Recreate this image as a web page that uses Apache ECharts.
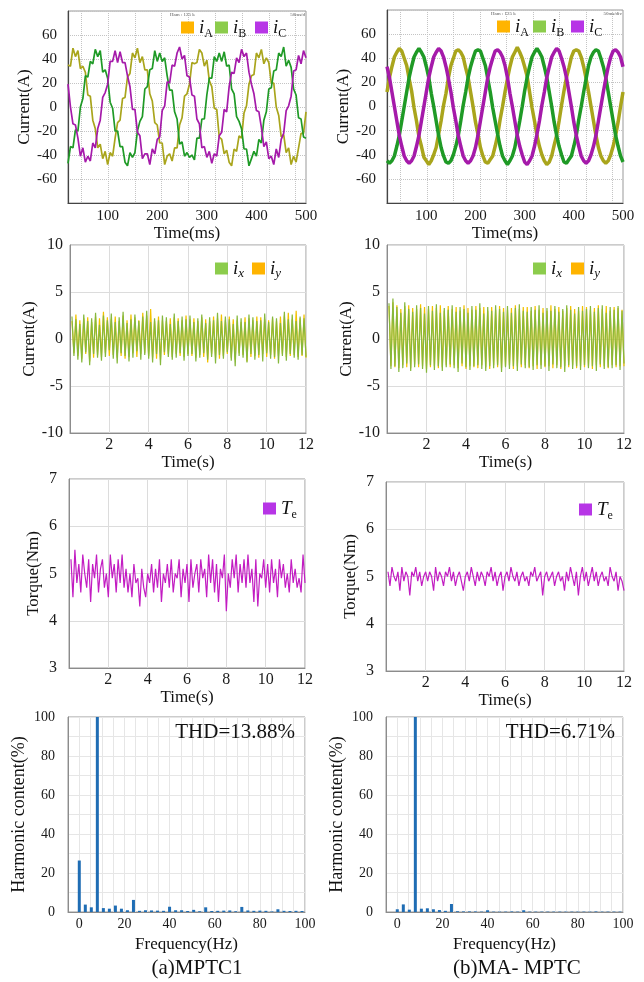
<!DOCTYPE html>
<html>
<head>
<meta charset="utf-8">
<title>MPTC1 vs MA-MPTC</title>
<script src="https://cdn.jsdelivr.net/npm/echarts@6/dist/echarts.min.js"></script>
<style>
html, body { margin: 0; padding: 0; background: #fff; }
#chart { width: 644px; height: 982px; }
</style>
</head>
<body>
<div id="chart"></div>
<script>
var FONT = '"Liberation Serif", "Times New Roman", serif';

// ---- time bases ----
var tStartMs = 20, tStepMs = 5, nMs = 97;
var timeMs = [];
for (var i = 0; i < nMs; i++) timeMs.push(tStartMs + i * tStepMs);
var timeS = [];
for (var i = 1; i <= 120; i++) timeS.push(+(i * 0.1).toFixed(1));

// ---- row 1: three-phase currents (A) ----
var mptcIA = [35, 34, 49, 42, 47, 32, 34, 29, 10, 9, -11, -18, -34, -31, -43, -37, -48, -38, -41, -26, -13, -11, 7, 8, 25,
  28, 45, 41, 49, 37, 42, 31, 31, 11, 5, -13, -15, -30, -30, -48, -41, -39, -45, -34, -34, -15, -9, 9, 11, 19,
  37, 36, 37, 48, 45, 34, 39, 22, 17, -1, -2, -25, -27, -39, -36, -46, -49, -35, -37, -24, -26, -5, 1, 19, 26,
  27, 45, 41, 48, 36, 41, 37, 20, 20, 0, -7, -25, -23, -38, -34, -48, -41, -46, -34, -22, -22, -4];
var mptcIB = [-47, -33, -34, -19, -20, 0, 7, 26, 25, 38, 36, 48, 42, 47, 29, 31, 24, 4, -1, -20, -20, -33, -33, -46, -49,
  -38, -42, -38, -20, -12, -8, 15, 17, 31, 32, 47, 38, 45, 38, 41, 26, 14, 14, -4, -10, -31, -29, -41, -38, -42,
  -40, -44, -26, -26, -10, -10, 10, 24, 24, 42, 38, 45, 38, 46, 34, 35, 15, 11, -8, -12, -18, -35, -35, -49, -43,
  -37, -41, -27, -30, -11, -4, 15, 16, 30, 31, 45, 42, 50, 34, 39, 33, 15, 10, -9, -10, -25, -26];
var mptcIC = [19, 0, -14, -15, -26, -41, -34, -46, -41, -45, -30, -34, -18, -11, 8, 12, 19, 38, 38, 47, 37, 46, 37, 37, 26,
  17, -2, -2, -21, -24, -43, -39, -39, -48, -35, -39, -27, -25, -3, 1, 21, 20, 35, 34, 45, 50, 40, 43, 26, 25,
  10, 9, -10, -14, -34, -33, -42, -37, -47, -39, -41, -24, -21, -2, -4, 17, 29, 28, 41, 37, 48, 42, 45, 29, 19,
  11, -3, -4, -17, -33, -29, -43, -41, -48, -35, -42, -27, -22, -3, 1, 9, 30, 31, 43, 36, 47, 41];

var maIA = [12, 24, 33, 41, 45,
  48, 46, 40, 34, 23, 13, -1, -12, -25, -33, -42, -45, -48, -45, -40, -34, -23, -12, 1, 11, 24, 34, 40, 46,
  47, 45, 41, 32, 24, 12, 0, -13, -23, -34, -41, -46, -47, -44, -41, -33, -24, -11, 0, 12, 23, 33, 41, 45,
  49, 45, 40, 33, 25, 12, -1, -12, -24, -33, -40, -45, -48, -46, -41, -32, -24, -12, 1, 13, 24, 32, 41, 46,
  47, 46, 41, 33, 23, 12, 0, -12, -24, -34, -41, -45, -47, -45, -40, -33, -24, -13, 0, 12];
var maIB = [-45, -47, -45, -41, -33, -24, -12, 0, 12, 24, 33, 41, 45,
  48, 45, 41, 33, 24, 11, 0, -12, -24, -34, -41, -46, -47, -45, -40, -33, -24, -12, 1, 12, 24, 33, 40, 46,
  47, 46, 40, 34, 23, 12, -1, -12, -23, -33, -41, -45, -48, -45, -41, -34, -23, -12, 0, 13, 24, 33, 41, 45,
  48, 45, 41, 33, 24, 12, 0, -13, -24, -33, -40, -46, -47, -44, -41, -33, -24, -11, 0, 12, 23, 34, 41, 45,
  47, 46, 40, 33, 24, 12, 0, -12, -24, -33, -41, -46];
var maIC = [33, 24, 12, 0, -12, -24, -33, -41, -45, -47, -45, -41, -33, -24, -12, 0, 12, 24, 33, 41, 45,
  48, 46, 41, 33, 23, 12, -1, -12, -24, -33, -41, -45, -47, -45, -41, -34, -24, -12, 0, 12, 24, 33, 40, 46,
  47, 45, 41, 34, 24, 11, 0, -12, -24, -33, -40, -46, -48, -45, -41, -33, -23, -12, 1, 12, 24, 33, 41, 45,
  48, 46, 40, 33, 24, 12, 0, -13, -24, -33, -41, -45, -47, -45, -40, -33, -24, -12, 0, 12, 23, 33, 41, 46,
  47, 45, 41, 33];

// ---- row 2: harmonic-plane currents ix, iy (A) ----
var mptcIx = [2.4,-1.8,2.1,-2.2,1.6,-2.5,2.6,-1.4,1.9,-2.8, 2.2,-1.6,2.8,-2.0,1.5,-2.3,2.5,-1.9,2.0,-1.2,
  2.7,-2.1,1.8,-2.6,2.3,-1.5,2.9,-1.8,1.7,-2.4, 2.1,-2.0,2.6,-1.3,1.9,-2.2,2.4,-1.7,3.0,-2.1,
  1.8,-2.5,2.2,-1.6,2.0,-2.8,2.5,-1.4,2.3,-1.9, 1.6,-2.2,2.7,-2.0,1.9,-1.5,2.4,-2.3,2.1,-1.8,
  2.5,-1.6,1.8,-2.4,2.2,-2.0,2.6,-1.5,1.7,-2.2, 2.3,-1.9,2.0,-2.6,2.8,-1.7,1.9,-2.1,2.4,-1.4,
  2.1,-2.3,1.6,-2.9,2.5,-1.8,2.2,-2.0,1.8,-2.5, 2.6,-1.6,2.3,-2.2,1.9,-1.7,2.0,-2.4,2.7,-1.5,
  1.8,-2.1,2.4,-1.9,2.2,-2.6,1.7,-1.8,2.9,-2.3, 2.1,-1.6,2.6,-2.0,1.9,-2.2,2.4,-1.7,2.2,-1.9];
var mptcIy = [1.9,-1.5,2.6,-1.8,2.0,-2.1,2.2,-1.6,2.3,-2.4, 1.8,-2.0,2.4,-1.7,2.2,-1.9,2.9,-1.5,2.3,-1.8,
  2.1,-1.7,2.4,-2.0,1.9,-1.8,2.5,-2.1,2.0,-1.9, 2.6,-1.5,2.3,-1.9,2.0,-1.6,2.8,-1.5,2.5,-1.8,
  3.2,-2.0,1.9,-2.1,2.4,-2.2,2.0,-1.7,1.9,-1.6, 2.2,-1.9,2.3,-1.6,2.2,-1.8,2.0,-1.9,2.5,-1.6,
  2.1,-1.8,2.2,-2.0,1.9,-1.7,2.3,-1.9,2.1,-2.5, 1.9,-1.6,2.4,-2.0,2.2,-2.1,2.6,-1.8,2.0,-1.6,
  2.4,-2.0,2.1,-2.2,2.0,-1.5,1.8,-1.7,2.3,-2.4, 2.2,-1.9,2.0,-1.8,2.4,-2.0,2.3,-1.6,2.1,-1.9,
  2.0,-1.7,2.2,-2.1,1.9,-1.8,2.4,-1.6,2.5,-1.9, 2.8,-1.8,2.1,-1.7,3.0,-1.9,2.2,-1.8,2.6,-2.0];
var maIx = [3.8,-3.2,4.3,-2.9,3.4,-3.5,2.8,-3.1,3.9,-2.6, 3.2,-3.4,2.9,-3.0,3.6,-2.7,3.3,-3.2,2.7,-3.6,
  3.5,-2.8,3.0,-3.3,3.7,-2.9,2.8,-3.4,3.3,-3.0, 3.1,-2.7,3.6,-3.1,2.9,-3.5,3.4,-2.6,3.2,-3.0,
  2.8,-3.3,3.5,-2.9,3.1,-2.8,3.8,-3.2,2.7,-3.4, 3.4,-2.9,3.0,-3.1,3.6,-2.8,3.2,-3.5,2.9,-3.0,
  3.5,-3.2,2.8,-2.9,3.3,-3.4,3.7,-2.7,3.0,-3.1, 2.9,-3.0,3.4,-3.3,3.1,-2.8,3.6,-3.2,2.8,-2.9,
  3.3,-3.4,3.0,-2.7,3.5,-3.1,2.9,-3.0,3.2,-3.5, 3.6,-2.8,3.1,-3.2,2.7,-2.9,3.4,-3.3,3.0,-2.8,
  3.2,-3.1,3.5,-2.9,2.9,-3.4,3.3,-2.7,3.6,-3.2, 2.8,-3.0,3.4,-3.1,3.1,-2.8,3.5,-3.3,3.0,-2.6];
var maIy = [3.5,-2.9,3.9,-3.0,3.6,-3.1,3.2,-2.8,3.5,-3.0, 3.6,-3.1,3.3,-2.7,3.2,-3.0,3.7,-2.9,3.4,-3.2,
  3.2,-3.0,3.5,-2.9,3.3,-3.1,3.6,-3.0,3.0,-2.8, 3.5,-3.0,3.2,-2.8,3.4,-3.1,3.0,-2.9,3.6,-3.2,
  3.3,-2.9,3.1,-3.0,3.5,-3.1,3.3,-2.8,3.4,-3.0, 3.0,-3.2,3.4,-2.8,3.1,-3.0,3.5,-3.1,3.3,-2.9,
  3.1,-2.8,3.3,-3.2,3.6,-2.9,3.2,-3.0,3.4,-2.8, 3.4,-3.1,3.0,-2.9,3.5,-3.2,3.1,-2.8,3.3,-3.0,
  3.0,-2.9,3.6,-3.1,3.2,-2.8,3.4,-3.2,3.0,-2.9, 3.3,-3.0,3.5,-2.8,3.2,-3.1,3.0,-2.9,3.5,-3.0,
  3.4,-2.9,3.1,-3.2,3.3,-2.8,3.6,-3.0,3.2,-2.9, 3.5,-3.1,3.0,-2.8,3.4,-3.0,3.3,-2.9,3.1,-2.9];

// ---- row 3: electromagnetic torque (Nm) ----
var mptcTe = [5.3,4.5,5.5,4.8,5.2,4.6,5.4,5.0,4.7,5.3, 4.4,5.2,4.9,5.4,4.6,5.1,5.3,4.7,5.0,4.5,
  5.4,4.9,5.2,4.6,5.3,4.8,5.4,4.7,5.1,4.6, 5.0,4.5,5.2,4.8,4.9,4.3,5.1,4.7,4.5,5.0,
  4.8,5.2,4.6,5.1,4.7,5.3,4.4,5.0,4.8,5.2, 4.7,5.3,4.6,5.0,4.9,5.3,4.5,5.1,4.8,5.2,
  4.4,5.3,4.7,5.0,5.2,4.6,5.3,4.9,5.1,4.5, 5.4,4.8,5.3,4.6,5.2,4.4,5.1,4.9,5.4,4.2,
  5.0,4.7,5.3,4.9,5.4,4.6,5.2,4.8,5.3,4.7, 5.4,4.8,5.1,4.4,5.3,4.3,5.0,4.9,5.3,4.7,
  5.2,4.6,5.3,4.8,5.1,4.5,5.3,4.9,5.2,4.7, 5.0,4.6,5.3,4.8,5.1,4.7,4.9,4.6,5.4,4.8];
var maTe = [5.1,4.8,5.2,5.0,4.9,5.1,4.7,5.2,4.9,5.1, 5.0,4.6,5.1,5.0,5.2,4.9,5.1,4.8,5.0,5.1,
  4.9,5.1,5.0,4.7,5.2,4.9,5.1,5.0,4.8,5.1, 5.0,5.2,4.9,5.1,4.8,5.0,5.1,4.9,4.7,5.0,
  5.1,4.9,5.2,5.0,4.8,5.1,4.9,5.1,5.0,4.8, 5.1,5.0,5.2,4.9,5.1,4.8,5.0,5.1,4.7,5.0,
  5.1,4.9,5.2,5.0,4.9,5.1,4.8,5.0,5.1,4.9, 5.0,4.8,5.1,5.0,5.2,4.9,5.0,5.1,4.6,5.0,
  5.1,4.9,5.0,5.1,4.8,5.0,5.1,4.9,5.0,4.7, 5.1,4.9,5.2,5.0,4.8,5.1,4.6,5.0,5.2,4.9,
  5.1,4.8,5.0,5.2,4.9,5.1,4.8,5.0,5.1,4.9, 5.0,4.8,5.2,5.0,4.9,5.1,4.7,5.0,4.9,4.7];

// ---- row 4: harmonic spectrum (% of fundamental) ----
var freqHz = [0, 2.67, 5.33, 8, 10.67, 13.33, 16, 18.67, 21.33, 24, 26.67, 29.33, 32, 34.67, 37.33, 40, 42.67, 45.33, 48,
  50.67, 53.33, 56, 58.67, 61.33, 64, 66.67, 69.33, 72, 74.67, 77.33, 80, 82.67, 85.33, 88, 90.67, 93.33, 96, 98.67];
var mptcHarm = [26.4, 3.8, 2.4, 100, 2.0, 1.7, 3.3, 1.7, 0.9, 6.2, 0.6, 0.9, 0.8, 0.7, 0.6, 2.7, 0.9, 0.9, 0.5,
  1.1, 0.4, 2.4, 0.5, 0.6, 0.7, 0.8, 0.4, 2.6, 0.8, 0.6, 0.7, 0.6, 0.3, 1.4, 0.6, 0.5, 0.6, 0.5];
var maHarm = [1.4, 3.9, 1.2, 100, 1.7, 1.9, 1.4, 1.0, 0.6, 4.1, 0.4, 0.3, 0.3, 0.3, 0.2, 0.9, 0.2, 0.2, 0.2,
  0.3, 0.2, 0.9, 0.2, 0.2, 0.2, 0.2, 0.2, 0.2, 0.2, 0.2, 0.2, 0.2, 0.2, 0.3, 0.2, 0.2, 0.2, 0.2];

var msLabels = [100, 200, 300, 400, 500];
var scopeDivMs = [47, 101, 155, 209, 263, 317, 371, 425, 479];

// legend label pieces
var legendText = {
  iA: '{m|i}{s|A}', iB: '{m|i}{s|B}', iC: '{m|i}{s|C}',
  ix: '{m|i}{si|x}', iy: '{m|i}{si|y}', Te: '{m|T}{s|e}'
};

function zip(xs, ys) {
  return xs.map(function (x, i) { return [x, ys[i]]; });
}

var labelStyle = { fontFamily: FONT, fontSize: 15, color: '#1a1a1a' };
var nameStyle = { fontFamily: FONT, fontSize: 17, color: '#111' };

function grid(l, t, w, h) {
  return { left: l, top: t, width: w, height: h, show: true, borderColor: '#999', borderWidth: 1, containLabel: false };
}

var grids = [
  grid(68, 11, 238, 192), grid(387, 10, 236, 193),
  grid(70, 245, 236, 188), grid(387, 245, 237, 188),
  grid(69, 479, 236, 189), grid(386, 482, 238, 189),
  grid(68, 717, 237, 195), grid(386, 717, 237, 195)
];

function xMs(gi) {
  return {
    type: 'value', gridIndex: gi, min: 20, max: 500,
    name: 'Time(ms)', nameLocation: 'middle', nameGap: 15, nameTextStyle: nameStyle,
    axisLine: { onZero: false, lineStyle: { color: '#444', width: 1.2 } },
    axisTick: { show: false, customValues: scopeDivMs },
    axisLabel: Object.assign({ customValues: msLabels, margin: 6 }, labelStyle),
    splitLine: { show: true, lineStyle: { color: '#c4c4c4', type: 'dotted' } }
  };
}
function yCur1(gi) {
  return {
    type: 'value', gridIndex: gi, min: -80, max: 80, interval: 20,
    name: 'Current(A)', nameLocation: 'middle', nameGap: 31, nameTextStyle: nameStyle,
    axisLine: { show: true, onZero: false, lineStyle: { color: '#444', width: 1.2 } },
    axisTick: { show: false },
    axisLabel: Object.assign({ showMinLabel: false, showMaxLabel: false, margin: 11 }, labelStyle),
    splitLine: { show: true, lineStyle: { color: '#c4c4c4', type: 'dotted' } }
  };
}
function xSec(gi) {
  return {
    type: 'value', gridIndex: gi, min: 0, max: 12, interval: 2,
    name: 'Time(s)', nameLocation: 'middle', nameGap: 17, nameTextStyle: nameStyle,
    axisLine: { onZero: false, lineStyle: { color: '#8c8c8c' } },
    axisTick: { show: false },
    axisLabel: Object.assign({ showMinLabel: false, margin: 4 }, labelStyle, { fontSize: 16 }),
    splitLine: { show: true, lineStyle: { color: '#dcdcdc' } }
  };
}
function yPlain(gi, name, min, max, step, gap, margin) {
  return {
    type: 'value', gridIndex: gi, min: min, max: max, interval: step,
    name: name, nameLocation: 'middle', nameGap: gap, nameTextStyle: nameStyle,
    axisLine: { show: true, onZero: false, lineStyle: { color: '#8c8c8c' } },
    axisTick: { show: false },
    axisLabel: Object.assign({ margin: margin }, labelStyle, { fontSize: 16 }),
    splitLine: { show: true, lineStyle: { color: '#dcdcdc' } }
  };
}
function xFreq(gi) {
  return {
    type: 'value', gridIndex: gi, min: -5, max: 100, interval: 5,
    name: 'Frequency(Hz)', nameLocation: 'middle', nameGap: 24, nameTextStyle: nameStyle,
    axisLine: { onZero: false, lineStyle: { color: '#8c8c8c' } },
    axisTick: { show: false },
    axisLabel: Object.assign({ margin: 5, formatter: function (v) { return v % 20 === 0 ? v : ''; } },
      labelStyle, { fontSize: 14 }),
    splitLine: { show: true, lineStyle: { color: '#e6e6e6' } }
  };
}
function yHarm(gi) {
  return {
    type: 'value', gridIndex: gi, min: 0, max: 100, interval: 10,
    name: 'Harmonic content(%)', nameLocation: 'middle', nameGap: 40, nameTextStyle: Object.assign({}, nameStyle, { fontSize: 18 }),
    axisLine: { show: true, onZero: false, lineStyle: { color: '#8c8c8c' } },
    axisTick: { show: false },
    axisLabel: Object.assign({ margin: 13, formatter: function (v) { return v % 20 === 0 ? v : ''; } },
      labelStyle, { fontSize: 14 }),
    splitLine: { show: true, lineStyle: { color: '#e6e6e6' } }
  };
}

function line(name, gi, xs, ys, color, width) {
  return {
    type: 'line', name: name, xAxisIndex: gi, yAxisIndex: gi,
    data: zip(xs, ys), showSymbol: false, symbol: 'none', clip: true,
    lineStyle: { color: color, width: width }, itemStyle: { color: color },
    emphasis: { disabled: true }
  };
}
function bars(name, gi, ys) {
  return {
    type: 'bar', name: name, xAxisIndex: gi, yAxisIndex: gi,
    data: zip(freqHz, ys), barWidth: 3, itemStyle: { color: '#1f6db4' }
  };
}

var legendRich = {
  m: { fontFamily: FONT, fontStyle: 'italic', fontSize: 19, color: '#111', lineHeight: 24 },
  s: { fontFamily: FONT, fontSize: 12, color: '#111', verticalAlign: 'bottom', lineHeight: 24 },
  si: { fontFamily: FONT, fontStyle: 'italic', fontSize: 13, color: '#111', verticalAlign: 'bottom', lineHeight: 24 }
};
function legendItem(name, color, left, top) {
  return {
    data: [{ name: name, itemStyle: { color: color } }],
    left: left, top: top, padding: 0, itemWidth: 13, itemHeight: 12,
    icon: 'rect', selectedMode: false,
    itemStyle: { borderWidth: 0 }, lineStyle: { width: 0 },
    formatter: function (n) { return legendText[n]; },
    textStyle: { rich: legendRich }
  };
}

var cA = '#a9a51c', cB = '#1f9a26', cC = '#a51aaa';
var lgA = '#ffb400', lgB = '#8ccc4c', lgC = '#b735e6';
var cX = '#86b83c', cY = '#f2c200';
var cT = '#c21cc2';

var titleStyle = { fontFamily: FONT, fontSize: 21, fontWeight: 'normal', color: '#111' };
var tinyStyle = { fontFamily: FONT, fontSize: 5, fontWeight: 'normal', color: '#555' };

var option = {
  animation: false,
  backgroundColor: '#fff',
  title: [
    { text: 'THD=13.88%', left: 295, top: 722, textAlign: 'right', padding: 0, textStyle: titleStyle },
    { text: 'THD=6.71%', left: 615, top: 722, textAlign: 'right', padding: 0, textStyle: titleStyle },
    { text: '(a)MPTC1', left: 197, top: 958, textAlign: 'center', padding: 0, textStyle: titleStyle },
    { text: '(b)MA- MPTC', left: 517, top: 958, textAlign: 'center', padding: 0, textStyle: titleStyle },
    { text: 'Ham : 125 k', left: 170, top: 12, padding: 0, textStyle: tinyStyle },
    { text: '50ms/d', left: 305, top: 12, textAlign: 'right', padding: 0, textStyle: tinyStyle },
    { text: 'Ham : 125 k', left: 491, top: 11, padding: 0, textStyle: tinyStyle },
    { text: '50ms/div', left: 622, top: 11, textAlign: 'right', padding: 0, textStyle: tinyStyle }
  ],
  legend: [
    legendItem('iA', lgA, 181, 18), legendItem('iB', lgB, 215, 18), legendItem('iC', lgC, 255, 18),
    legendItem('iA', lgA, 497, 17), legendItem('iB', lgB, 533, 17), legendItem('iC', lgC, 571, 17),
    legendItem('ix', lgB, 215, 259), legendItem('iy', lgA, 252, 259),
    legendItem('ix', lgB, 533, 259), legendItem('iy', lgA, 571, 259),
    legendItem('Te', lgC, 263, 499), legendItem('Te', lgC, 579, 500)
  ],
  grid: grids,
  xAxis: [xMs(0), xMs(1), xSec(2), xSec(3), xSec(4), xSec(5), xFreq(6), xFreq(7)],
  yAxis: [
    yCur1(0), yCur1(1),
    yPlain(2, 'Current(A)', -10, 10, 5, 27, 7), yPlain(3, 'Current(A)', -10, 10, 5, 27, 7),
    yPlain(4, 'Torque(Nm)', 3, 7, 1, 27, 12), yPlain(5, 'Torque(Nm)', 3, 7, 1, 27, 12),
    yHarm(6), yHarm(7)
  ],
  series: [
    line('iA', 0, timeMs, mptcIA, cA, 1.7),
    line('iB', 0, timeMs, mptcIB, cB, 1.7),
    line('iC', 0, timeMs, mptcIC, cC, 1.7),
    line('iA', 1, timeMs, maIA, cA, 3.5),
    line('iB', 1, timeMs, maIB, cB, 3.5),
    line('iC', 1, timeMs, maIC, cC, 3.5),
    line('iy', 2, timeS, mptcIy, cY, 1.2),
    line('ix', 2, timeS, mptcIx, cX, 1.2),
    line('iy', 3, timeS, maIy, cY, 1.2),
    line('ix', 3, timeS, maIx, cX, 1.2),
    line('Te', 4, timeS, mptcTe, cT, 1.2),
    line('Te', 5, timeS, maTe, cT, 1.2),
    bars('H1', 6, mptcHarm),
    bars('H2', 7, maHarm)
  ]
};

var myChart = echarts.init(document.getElementById('chart'));
myChart.setOption(option);
window.addEventListener('resize', function () {
  myChart.resize();
});
</script>
</body>
</html>
